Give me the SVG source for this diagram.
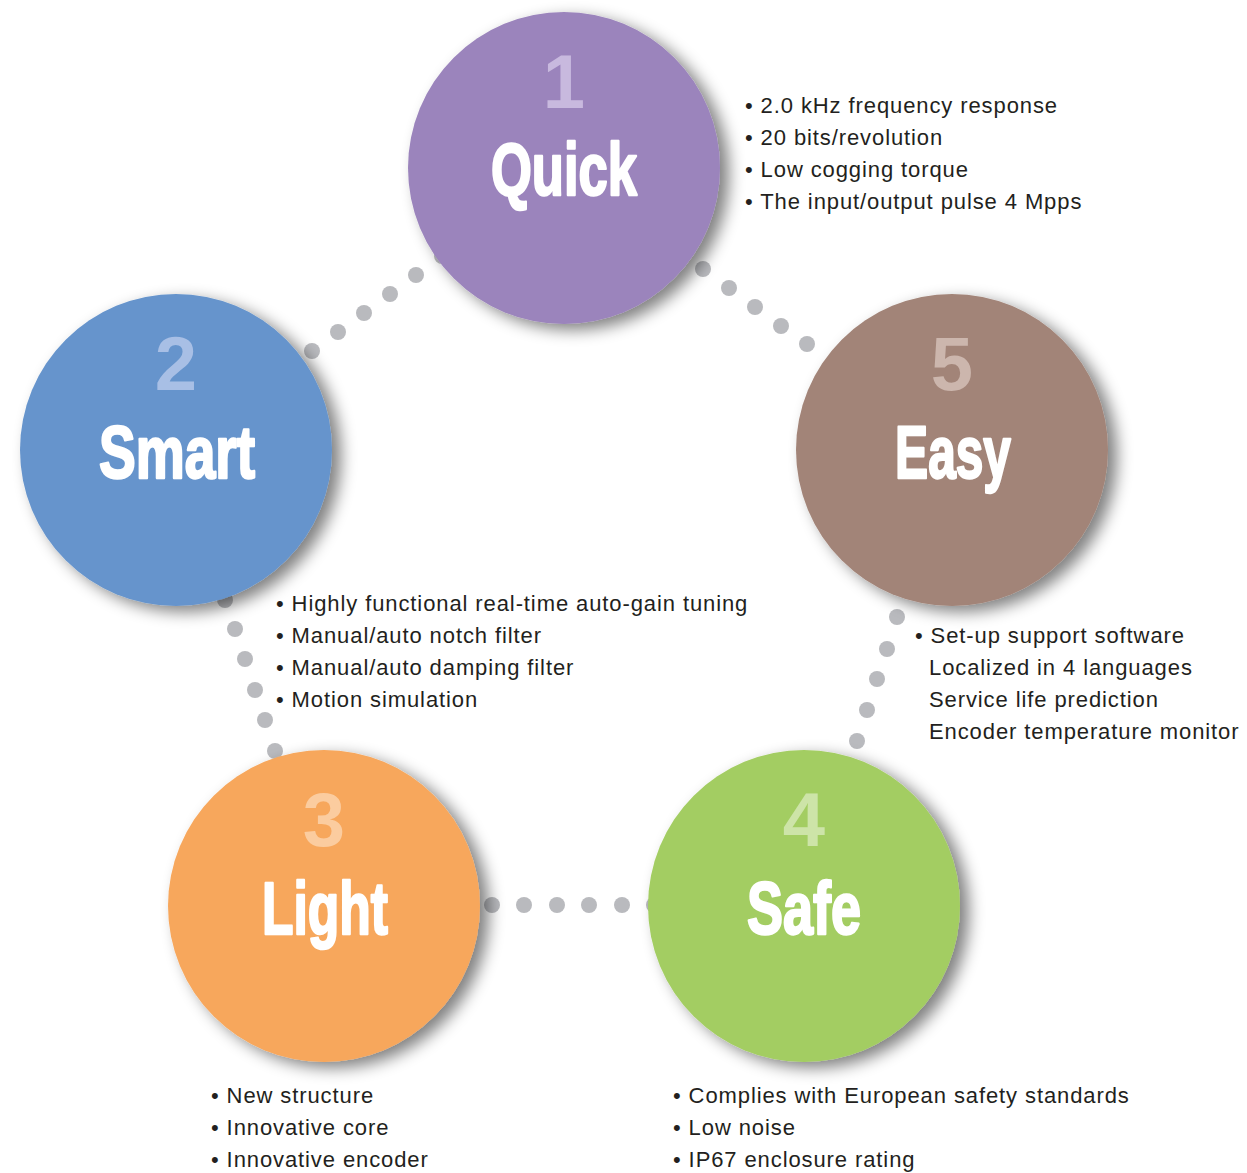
<svg xmlns="http://www.w3.org/2000/svg" width="1247" height="1173" viewBox="0 0 1247 1173">
<style>
.t{font-family:"Liberation Sans",Arial,Helvetica,sans-serif;font-size:22px;letter-spacing:0.9px;fill:#231f20}
.num{font-family:"Liberation Sans",Arial,Helvetica,sans-serif;font-size:76px;font-weight:bold;text-anchor:middle}
.lbl{font-family:"Liberation Sans Narrow","Liberation Sans",Arial,sans-serif;font-size:74px;font-weight:bold;fill:#fff;stroke:#fff;stroke-width:2.5px;stroke-linejoin:round;text-anchor:middle}
.dot{fill:#b9babe}
</style>
<defs>
<filter id="sh" x="-25%" y="-25%" width="160%" height="160%">
<feGaussianBlur in="SourceAlpha" stdDeviation="8"/>
<feOffset dx="9" dy="6" result="b"/>
<feComponentTransfer><feFuncA type="linear" slope="0.5"/></feComponentTransfer>
<feMerge><feMergeNode/><feMergeNode in="SourceGraphic"/></feMerge>
</filter>
</defs>
<rect width="1247" height="1173" fill="#fff"/>
<g id="connectors">
<circle class="dot" cx="312" cy="351" r="8"/>
<circle class="dot" cx="338" cy="332" r="8"/>
<circle class="dot" cx="364" cy="313" r="8"/>
<circle class="dot" cx="390" cy="294" r="8"/>
<circle class="dot" cx="416" cy="275" r="8"/>
<circle class="dot" cx="442" cy="256" r="8"/>
<circle class="dot" cx="703" cy="269" r="8"/>
<circle class="dot" cx="729" cy="288" r="8"/>
<circle class="dot" cx="755" cy="307" r="8"/>
<circle class="dot" cx="781" cy="326" r="8"/>
<circle class="dot" cx="807" cy="344" r="8"/>
<circle class="dot" cx="225" cy="600" r="8"/>
<circle class="dot" cx="235" cy="629" r="8"/>
<circle class="dot" cx="245" cy="659" r="8"/>
<circle class="dot" cx="255" cy="690" r="8"/>
<circle class="dot" cx="265" cy="720" r="8"/>
<circle class="dot" cx="275" cy="751" r="8"/>
<circle class="dot" cx="897" cy="617" r="8"/>
<circle class="dot" cx="887" cy="649" r="8"/>
<circle class="dot" cx="877" cy="679" r="8"/>
<circle class="dot" cx="867" cy="710" r="8"/>
<circle class="dot" cx="857" cy="741" r="8"/>
<circle class="dot" cx="492" cy="905" r="8"/>
<circle class="dot" cx="524" cy="905" r="8"/>
<circle class="dot" cx="557" cy="905" r="8"/>
<circle class="dot" cx="589" cy="905" r="8"/>
<circle class="dot" cx="622" cy="905" r="8"/>
<circle class="dot" cx="654" cy="905" r="8"/>
</g>
<g id="node-1">
<circle cx="564" cy="168" r="156" fill="#9b84bc" filter="url(#sh)"/>
<text class="num" x="564" y="108" fill="#c8b9de">1</text>
<text class="lbl" x="564" y="195" textLength="146" lengthAdjust="spacingAndGlyphs">Quick</text>
</g>
<g id="node-2">
<circle cx="176" cy="450" r="156" fill="#6694cc" filter="url(#sh)"/>
<text class="num" x="176" y="390" fill="#a8bfe5">2</text>
<text class="lbl" x="177" y="478" textLength="156" lengthAdjust="spacingAndGlyphs">Smart</text>
</g>
<g id="node-5">
<circle cx="952" cy="450" r="156" fill="#a28478" filter="url(#sh)"/>
<text class="num" x="952" y="390" fill="#ccb6ad">5</text>
<text class="lbl" x="953" y="478" textLength="116" lengthAdjust="spacingAndGlyphs">Easy</text>
</g>
<g id="node-3">
<circle cx="324" cy="906" r="156" fill="#f7a75c" filter="url(#sh)"/>
<text class="num" x="324" y="846" fill="#fbcc9f">3</text>
<text class="lbl" x="325" y="934" textLength="126" lengthAdjust="spacingAndGlyphs">Light</text>
</g>
<g id="node-4">
<circle cx="804" cy="906" r="156" fill="#a3cd62" filter="url(#sh)"/>
<text class="num" x="804" y="846" fill="#cde4a8">4</text>
<text class="lbl" x="804" y="934" textLength="114" lengthAdjust="spacingAndGlyphs">Safe</text>
</g>
<g id="text-1">
<text class="t" x="745" y="113">• 2.0 kHz frequency response</text>
<text class="t" x="745" y="145">• 20 bits/revolution</text>
<text class="t" x="745" y="177">• Low cogging torque</text>
<text class="t" x="745" y="209">• The input/output pulse 4 Mpps</text>
</g>
<g id="text-2">
<text class="t" x="276" y="611">• Highly functional real-time auto-gain tuning</text>
<text class="t" x="276" y="643">• Manual/auto notch filter</text>
<text class="t" x="276" y="675">• Manual/auto damping filter</text>
<text class="t" x="276" y="707">• Motion simulation</text>
</g>
<g id="text-5">
<text class="t" x="915" y="643">• Set-up support software</text>
<text class="t" x="929" y="675">Localized in 4 languages</text>
<text class="t" x="929" y="707">Service life prediction</text>
<text class="t" x="929" y="739">Encoder temperature monitor</text>
</g>
<g id="text-3">
<text class="t" x="211" y="1103">• New structure</text>
<text class="t" x="211" y="1135">• Innovative core</text>
<text class="t" x="211" y="1167">• Innovative encoder</text>
</g>
<g id="text-4">
<text class="t" x="673" y="1103">• Complies with European safety standards</text>
<text class="t" x="673" y="1135">• Low noise</text>
<text class="t" x="673" y="1167">• IP67 enclosure rating</text>
</g>
</svg>
